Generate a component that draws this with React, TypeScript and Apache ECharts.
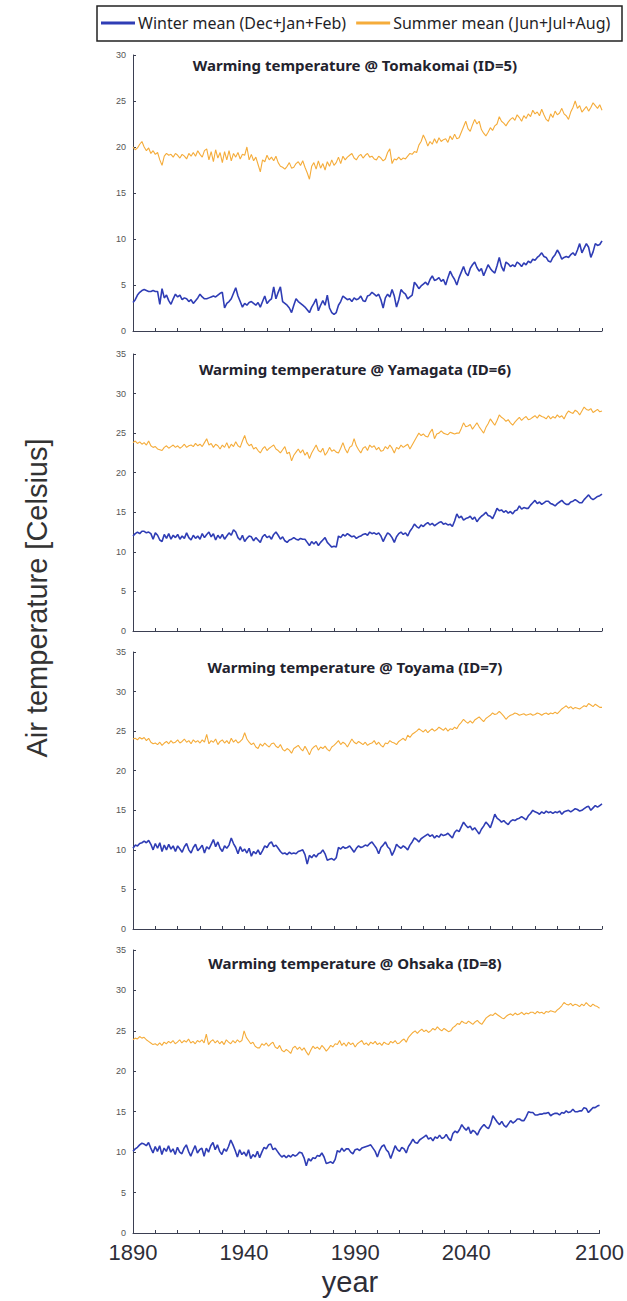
import React, { useEffect, useRef } from "react";
import * as echarts from "echarts";

const YEARS: number[] = Array.from({ length: 211 }, (_, i) => 1890 + i);
const X_LABELS = [1890, 1940, 1990, 2040, 2100];
const STATIONS = ["Tomakomai (ID=5)", "Yamagata (ID=6)", "Toyama (ID=7)", "Ohsaka (ID=8)"];
const Y_MAX = [30, 35, 35, 35];
const WINTER_NAME = "Winter mean (Dec+Jan+Feb)";
const SUMMER_NAME = "Summer mean (Jun+Jul+Aug)";

const TOMAKOMAI_SUMMER = [
  20.0, 19.7, 19.9, 20.3, 20.6, 20.0, 19.6, 19.9, 19.3, 19.6,
  19.2, 19.4, 18.6, 18.0, 19.0, 19.3, 19.1, 19.2, 18.9, 19.3,
  19.1, 18.8, 19.2, 19.0, 18.7, 19.3, 19.0, 19.4, 19.0, 19.6,
  19.2, 18.9, 19.6, 19.8, 18.6, 19.5, 18.4, 19.7, 18.8, 19.4,
  18.3, 19.5, 18.6, 19.6, 18.5, 19.3, 18.9, 19.4, 18.7, 19.2,
  19.1, 20.0, 18.6, 19.2, 18.5, 18.9, 18.1, 17.3, 18.6, 18.4,
  19.1, 18.6, 18.9, 18.5, 19.0, 18.3, 17.9, 17.8, 17.6, 17.9,
  18.3, 17.7, 17.8, 18.2, 18.4, 18.0, 18.5, 17.8, 17.2, 16.5,
  17.9, 18.3, 17.6, 18.5, 17.7, 18.2, 17.5, 18.4, 17.9, 18.6,
  18.0, 18.3, 18.9, 18.2, 19.0, 18.6, 18.9, 19.1, 19.3, 18.8,
  18.6, 19.0, 19.2, 18.8, 19.1, 19.3, 18.9, 19.0, 18.7, 18.6,
  19.0, 18.8, 18.5, 18.7, 19.4, 19.8, 18.2, 18.7, 18.6, 18.9,
  18.6, 18.8, 18.7, 19.0, 19.3, 19.2, 19.5, 19.4, 20.2, 20.6,
  21.3, 20.8, 20.1, 20.6, 20.3, 20.9, 20.4, 21.0, 20.6, 20.8,
  20.9, 20.5, 21.2, 20.8, 21.4, 20.9, 21.0, 21.6, 22.2, 22.8,
  22.0, 21.7, 22.4, 23.0, 22.5, 22.8, 21.9, 21.5, 21.2, 21.6,
  22.1, 21.8, 22.3, 22.5, 23.3, 22.8, 22.6, 22.3, 22.7, 23.0,
  23.2, 22.9, 23.5, 23.2, 22.8, 23.4, 23.1, 23.6, 23.3, 24.0,
  23.6, 23.8, 23.4, 24.1, 23.5, 23.0, 22.8, 23.6, 23.2, 23.9,
  23.5, 23.7, 24.2, 23.6, 23.4, 23.0, 23.8, 24.3, 25.0, 24.2,
  24.5, 23.8, 24.1, 24.4, 23.9, 24.3, 24.8, 24.5, 24.2, 24.6, 24.0,
];

const TOMAKOMAI_WINTER = [
  3.1, 3.4, 3.9, 4.2, 4.4, 4.5, 4.4, 4.3, 4.3, 4.4,
  4.3, 4.3, 2.9, 4.6, 3.6, 3.9, 3.3, 2.9, 3.5, 4.0,
  3.7, 3.9, 3.4, 3.6, 3.5, 3.2, 3.4, 3.0, 3.3, 3.6,
  4.0, 3.7, 3.5, 3.5, 3.6, 3.7, 3.8, 3.7, 3.9, 4.1,
  4.2, 2.5, 3.0, 3.2, 3.5, 4.1, 4.7, 3.8, 3.2, 2.6,
  3.0, 2.8, 3.1, 3.2, 3.0, 2.8, 3.1, 2.6, 3.2, 3.8,
  3.0, 3.3, 3.5, 4.8, 3.5, 4.2, 4.8, 3.2, 3.0, 2.8,
  2.5, 2.0, 2.8, 3.5, 3.2, 3.0, 2.8, 2.6, 2.3, 2.0,
  2.6, 3.0, 3.5, 2.2, 2.8, 3.3, 2.8, 3.9, 2.5, 2.0,
  1.8, 2.0, 2.8, 3.2, 3.8, 3.6, 3.4, 3.5, 3.2, 3.6,
  3.4, 3.5, 3.8, 3.3, 3.2, 3.8, 3.9, 4.2, 4.0, 3.8,
  4.0, 3.4, 2.5, 3.6, 4.0, 3.7, 4.5, 3.8, 2.6, 3.4,
  4.5, 4.2, 4.0, 3.5, 3.7, 3.9, 5.3, 5.0, 4.6, 4.9,
  5.1, 5.3, 5.0, 5.6, 6.0, 5.5, 5.6, 5.8, 5.4, 5.6,
  5.0, 5.8, 6.5, 6.0, 5.6, 5.0, 5.8, 6.4, 7.0, 6.3,
  6.0, 6.8, 7.2, 7.5, 6.9, 6.5, 6.8, 6.0, 6.6, 7.2,
  6.8, 6.5, 6.3, 7.1, 8.0, 7.0, 6.5, 7.5, 7.3, 7.0,
  7.2, 7.0, 7.5, 7.3, 7.0, 7.4, 7.2, 7.6, 7.4, 7.8,
  7.7, 8.0, 8.2, 8.5, 8.1, 8.0, 7.6, 7.5, 8.0, 8.3,
  8.8, 8.4, 7.8, 8.0, 8.1, 8.0, 8.3, 8.5, 8.2, 8.8,
  9.5, 8.5, 9.0, 9.5, 9.1, 8.0, 8.6, 9.5, 9.3, 9.4, 9.8,
];

const YAMAGATA_SUMMER = [
  23.8, 24.0, 23.7, 23.9, 23.6, 23.8, 23.5, 24.0, 23.4, 23.2,
  23.3, 23.0, 22.9, 22.8, 23.2, 23.4, 23.1, 23.3, 23.5, 23.2,
  23.4, 23.1, 23.3, 23.6, 23.2, 23.4, 23.5, 23.3, 23.7, 23.4,
  23.6, 23.3, 23.8, 24.3, 23.5, 23.7, 23.2, 23.6, 23.4, 23.0,
  23.5, 23.2, 23.8, 23.1, 23.6, 23.3, 23.9, 23.4, 23.2, 24.0,
  24.7, 23.8, 23.4, 23.6, 23.0, 23.2, 22.8, 22.5, 23.0, 23.3,
  22.8, 23.1, 23.3, 23.5, 23.0, 22.8, 22.5, 22.9, 23.3, 22.4,
  22.6, 21.5, 22.2, 22.6, 23.0, 22.5, 22.9, 22.2, 22.6, 21.8,
  22.5, 23.0, 23.5, 22.8, 22.6, 23.1, 22.2, 22.6, 23.2, 22.7,
  22.9, 22.6, 22.5, 23.1, 23.8, 23.0, 22.5, 23.2, 23.4, 24.3,
  23.4, 22.9, 22.5, 23.1, 23.3, 22.8, 23.5, 23.2, 23.4, 22.9,
  23.2, 22.7, 22.8, 23.3, 23.0, 23.5, 23.1, 22.5, 23.2, 23.0,
  23.5, 23.2, 23.4, 23.6, 23.0, 23.5, 24.0, 24.5, 25.0, 24.7,
  24.9, 24.6, 24.5, 25.1, 25.5, 24.3, 24.9, 25.0, 25.3, 25.0,
  24.9, 24.8, 25.1, 25.0, 24.9, 25.0, 25.0, 25.6, 26.3, 25.8,
  25.9, 26.1, 25.5, 25.9, 26.3, 25.8, 25.4, 25.0, 25.7, 26.2,
  26.8, 26.4, 26.0, 26.6, 27.3, 27.0, 26.8, 26.5, 26.7, 26.3,
  26.0, 26.4, 26.7, 27.0, 26.6, 26.9, 27.1, 26.7, 26.8, 27.0,
  27.2, 26.9, 27.3, 27.1, 27.0, 26.8, 27.2, 26.8, 27.1, 26.9,
  27.3, 27.0, 27.2, 26.8, 27.4, 27.8, 27.6, 27.5, 27.9, 27.7,
  27.3, 27.8, 28.3, 28.0, 27.9, 28.1, 27.6, 27.8, 28.0, 27.7, 27.8,
];

const YAMAGATA_WINTER = [
  12.0, 12.3, 12.5, 12.3, 12.6, 12.6, 12.4, 12.5, 12.3, 11.6,
  12.4, 12.1, 11.5, 11.3, 12.2, 11.7, 12.3, 11.6, 12.1, 11.8,
  12.2, 11.6, 12.0, 11.7, 12.4, 11.8, 11.5, 12.1, 11.7, 12.0,
  11.6, 12.3, 11.8, 12.2, 12.5, 11.9, 12.3, 11.5, 12.1, 11.7,
  12.2, 11.6, 12.0, 12.4, 12.1, 12.8, 12.5, 11.8, 11.5, 12.1,
  11.3, 11.7, 12.0, 11.9, 11.4, 11.8, 11.5, 11.2, 11.9, 12.2,
  11.8, 12.0, 11.6, 12.2, 12.5, 12.1, 11.6, 11.9, 11.4, 11.2,
  11.5, 11.6, 11.8, 11.6, 11.5, 11.7, 11.6, 11.6, 11.2, 10.8,
  11.3, 11.0, 11.3, 10.8, 11.2, 11.5, 11.8, 11.2, 10.9, 10.6,
  10.7, 10.6, 12.0, 11.8, 12.2, 12.0, 12.3, 12.1, 11.9, 12.0,
  11.7, 11.9, 12.0, 12.2, 12.3, 12.1, 12.5, 12.3, 12.4, 12.2,
  12.4, 12.0, 11.3, 11.9, 12.4, 12.2, 11.8, 11.2, 11.9, 12.3,
  12.5, 12.2, 12.4, 12.0, 12.6, 13.0, 13.5, 13.2, 13.0, 13.4,
  13.2, 13.5, 13.7, 13.4, 13.6, 13.3, 13.5, 13.7, 13.8, 13.5,
  13.6, 13.4, 13.5, 13.2, 13.9, 14.8, 14.3, 14.5, 14.0, 14.2,
  14.3, 14.5, 14.1, 14.4, 13.8, 14.2, 14.5, 14.7, 15.0, 14.6,
  14.5, 14.2, 14.8, 15.5, 15.2, 15.3, 15.0, 15.2, 14.9, 15.1,
  14.8, 15.2, 15.3, 15.8, 15.4, 15.6, 15.5, 15.5, 15.9, 16.2,
  16.5, 16.1, 16.3, 16.0, 16.2, 16.4, 16.4, 16.1, 16.0, 15.8,
  16.1, 16.3, 16.5, 16.2, 16.0, 16.0, 16.3, 16.4, 16.6, 16.4,
  16.2, 16.2, 16.6, 16.9, 17.2, 16.8, 16.6, 16.8, 17.0, 17.1, 17.3,
];

const TOYAMA_SUMMER = [
  24.0, 24.1, 23.9, 24.2, 24.0, 24.2, 23.8, 24.1, 23.6, 23.4,
  23.5, 23.3, 23.6, 23.2, 23.5, 23.7, 23.4, 23.8, 23.5, 23.6,
  23.9, 23.5, 23.7, 24.0, 23.6, 23.8, 23.4, 23.9, 23.6, 23.8,
  23.5, 23.9, 23.6, 24.6, 23.4, 23.8, 23.6, 24.0, 23.3, 23.7,
  23.9, 23.5, 23.8, 23.4, 24.1, 23.6, 23.9, 23.5, 23.7, 24.0,
  24.8, 24.0, 23.6, 23.3, 23.5, 23.0, 22.8, 23.4, 23.1, 23.5,
  23.2, 23.0, 23.4, 23.5, 23.1, 22.9, 23.3, 22.7, 22.5, 22.8,
  22.6, 22.2, 22.8, 23.0, 23.2, 22.8, 22.5, 23.1, 22.6, 22.0,
  22.7, 23.0, 23.2, 22.6, 23.0, 22.8, 23.1, 22.7, 22.5, 23.0,
  23.2, 23.5, 23.8, 23.3, 23.6, 23.4, 23.0, 23.5, 24.0, 23.6,
  23.4, 23.7, 23.5, 23.3, 23.6, 23.2, 23.4, 23.5, 23.8, 23.3,
  23.6, 23.2, 23.0, 23.5, 23.4, 23.8, 23.6, 23.5, 23.3, 23.7,
  23.9, 24.1, 23.8, 24.5, 24.2, 24.6, 24.8, 25.0, 25.3, 25.1,
  24.9, 25.2, 24.8, 25.1, 25.3, 25.0, 25.2, 25.5, 25.3, 25.1,
  25.4, 25.0, 25.3, 25.2, 25.5, 25.3, 25.8, 26.1, 26.5, 26.2,
  26.0, 26.3, 26.0, 26.4, 26.6, 26.8, 26.5, 26.2, 26.6, 26.8,
  27.0, 27.3, 27.1, 27.2, 27.5, 27.2, 26.9, 26.5, 26.8, 27.0,
  27.1, 27.3, 27.2, 27.0, 27.1, 27.2, 27.0, 27.1, 27.2, 27.0,
  27.1, 27.3, 27.2, 27.0, 27.2, 27.3, 27.1, 27.3, 27.2, 27.4,
  27.2, 27.5, 27.8, 28.0, 28.2, 27.9, 28.1, 27.8, 28.0, 27.9,
  27.8, 28.0, 28.2, 28.1, 28.5, 28.3, 28.1, 28.4, 28.2, 28.0, 28.0,
];

const TOYAMA_WINTER = [
  10.2, 10.6, 10.5, 10.8, 10.9, 11.1, 10.9, 11.2, 10.7, 10.0,
  10.8, 10.2, 10.9, 9.8, 10.6, 10.0, 10.7, 10.1, 10.5, 9.8,
  10.5, 10.1, 9.7, 10.4, 10.8, 10.0, 9.6, 10.3, 10.7, 9.9,
  10.2, 10.6, 9.6, 10.4, 10.1, 10.7, 11.3, 10.4, 11.0, 10.2,
  9.8, 10.5, 10.2, 10.6, 11.5, 10.8, 10.3, 9.5, 10.4, 9.8,
  10.1, 9.6, 10.2, 9.2, 9.8, 9.5, 10.0, 9.4, 9.9, 10.5,
  10.3, 10.8, 11.0, 10.4, 10.6, 10.2, 9.8, 9.5, 9.6, 9.4,
  9.7, 9.5, 9.6, 9.5, 9.8, 9.9, 10.0, 9.4, 8.2, 9.3,
  9.0, 9.4, 9.1, 9.5, 9.6, 10.0, 9.5, 8.7, 8.8, 8.9,
  8.7, 9.0, 10.3, 10.1, 10.4, 10.2, 10.3, 10.5, 10.1, 9.7,
  10.2, 10.5, 10.3, 10.4, 10.6, 10.5, 10.8, 11.0, 10.6, 10.2,
  9.5, 10.3, 10.6, 11.0, 10.4, 10.1, 9.3, 9.9, 10.7, 10.4,
  10.2, 10.5, 10.3, 10.0, 10.6, 11.0, 11.5, 11.3, 11.0, 11.4,
  11.6, 11.8, 12.0, 11.7, 11.9, 11.5, 11.8, 11.6, 12.0, 11.8,
  11.9, 12.1, 11.8, 11.5, 12.2, 12.5, 12.3, 12.9, 13.5, 13.1,
  12.8, 13.0, 12.5, 12.8, 12.4, 12.0, 12.6, 13.0, 13.5, 13.2,
  12.8, 13.6, 14.5, 14.0, 13.8, 13.5, 13.7, 13.4, 13.2, 13.6,
  13.8, 13.7, 13.9, 14.0, 14.2, 14.0, 13.8, 14.3, 14.6, 15.0,
  14.8, 14.7, 14.5, 14.8, 14.6, 14.9, 14.7, 14.8, 14.6, 14.8,
  14.7, 14.9, 14.5, 14.8, 14.9, 15.0, 14.8, 15.0, 15.2, 15.1,
  14.9, 15.0, 15.2, 15.4, 15.5, 15.0, 15.3, 15.6, 15.4, 15.6, 15.8,
];

const OHSAKA_SUMMER = [
  23.9, 24.1, 24.0, 24.3, 24.1, 24.2, 23.9, 23.7, 23.5, 23.3,
  23.4, 23.2, 23.5, 23.2, 23.6, 23.4, 23.7, 23.5, 23.8, 23.4,
  23.6, 23.9, 23.5, 23.8, 23.6, 24.0, 23.5, 23.7, 23.4, 23.8,
  23.6, 23.9, 23.5, 24.6, 23.3, 23.7, 23.9, 23.5, 23.8, 23.4,
  23.7, 23.3, 23.9, 23.6, 23.4, 23.8, 23.5, 23.9, 23.6, 23.8,
  25.0, 24.2, 23.8, 23.4, 23.6, 23.1, 22.9, 22.9, 23.4, 23.2,
  23.5, 23.1, 23.4, 23.6, 23.0, 22.8, 23.2, 22.6, 22.4, 22.7,
  22.5, 22.2, 22.9, 23.1, 22.7, 23.0, 22.6, 22.9, 22.4, 22.0,
  22.6, 23.1, 22.8, 23.0, 22.7, 23.2, 22.9, 22.5, 22.8, 23.2,
  23.0, 23.4, 23.3, 23.8, 23.2, 23.5, 23.1, 23.6, 23.3, 23.5,
  23.0, 23.4, 23.6, 23.8, 23.3, 23.5, 23.2, 23.6, 23.4, 23.7,
  23.3, 23.5, 23.2, 23.6, 23.4, 23.3, 23.7, 23.5, 23.8, 23.4,
  23.5, 23.8, 24.0, 23.6, 24.2, 24.5, 24.8, 25.0, 24.7, 25.0,
  25.2, 24.9, 25.1, 24.8, 25.0, 25.3, 25.1, 25.5, 25.2, 25.0,
  25.3, 25.1, 24.9, 25.0, 25.4, 25.6, 25.9, 25.8, 26.2, 26.0,
  25.9, 26.2, 26.0, 25.8, 26.1, 26.3, 26.0, 25.8, 26.2, 26.6,
  26.8, 27.0, 26.9, 27.2, 27.0, 26.8, 26.6, 26.5, 26.8, 27.0,
  27.1, 26.9, 27.2, 27.0, 27.1, 27.3, 27.0, 27.2, 27.1, 27.3,
  27.3, 27.1, 27.4, 27.2, 27.3, 27.1, 27.4, 27.3, 27.5, 27.4,
  27.3, 27.6, 27.8, 28.1, 28.5, 28.3, 28.2, 28.4, 28.1, 28.3,
  28.2, 28.0, 28.3, 28.1, 28.5, 28.2, 28.0, 28.3, 28.1, 28.0, 27.8,
];

const OHSAKA_WINTER = [
  10.1, 10.4, 10.6, 10.9, 11.1, 11.0, 10.8, 11.2, 10.5, 9.9,
  10.7, 10.1, 10.8, 9.7, 10.5, 10.1, 10.8, 10.0, 10.4, 9.7,
  10.6, 10.0, 9.8, 10.5, 10.9, 10.1, 9.5, 10.2, 10.8, 9.9,
  10.3, 10.5, 9.5, 10.5, 10.0, 10.8, 11.2, 10.3, 10.9, 10.1,
  9.7, 10.4, 10.1, 10.7, 11.5, 10.9, 10.2, 9.4, 10.3, 9.7,
  10.0, 9.5, 10.3, 9.2, 9.7, 9.4, 10.1, 9.3, 10.0, 10.6,
  10.4, 10.9, 11.0, 10.3, 10.5, 10.1, 9.7, 9.4, 9.6, 9.3,
  9.6, 9.4, 9.7, 9.5, 9.7, 10.0, 9.9, 9.3, 8.3, 9.2,
  8.9, 9.3, 9.2, 9.6, 9.5, 9.9, 9.4, 8.6, 8.7, 8.8,
  8.6, 9.1, 10.2, 10.0, 10.5, 10.1, 10.4, 10.4, 10.0, 9.8,
  10.3, 10.4, 10.2, 10.5, 10.6, 10.7, 10.8, 10.9, 10.5, 10.1,
  9.4, 10.2, 10.7, 10.9, 10.3, 10.0, 9.2, 10.0, 10.8, 10.3,
  10.1, 10.6, 10.4, 9.9, 10.7, 11.1, 11.6, 11.2, 11.1, 11.5,
  11.7, 11.9, 12.1, 11.6, 11.8, 11.4, 11.9, 11.7, 12.1, 11.7,
  11.8, 12.2, 11.7, 11.4, 12.3, 12.6, 12.4, 12.8, 13.4, 13.0,
  12.7, 13.1, 12.3, 12.7, 12.5, 12.1, 12.7, 13.1, 13.4, 13.1,
  12.9, 13.5, 14.5, 14.1, 13.7, 13.4, 13.8, 13.3, 13.1, 13.5,
  13.9, 13.6, 13.8, 14.1, 14.1, 13.9, 13.9, 14.4, 15.0, 14.9,
  14.9, 14.6, 14.6, 14.7, 14.7, 14.8, 14.8, 14.9, 14.5, 14.7,
  14.8, 14.8, 14.6, 14.9, 14.8, 15.1, 14.9, 15.0, 15.3, 15.0,
  15.0, 15.1, 15.1, 15.5, 15.4, 14.9, 15.2, 15.5, 15.5, 15.7, 15.8,
];

const WINTER = [TOMAKOMAI_WINTER, YAMAGATA_WINTER, TOYAMA_WINTER, OHSAKA_WINTER];
const SUMMER = [TOMAKOMAI_SUMMER, YAMAGATA_SUMMER, TOYAMA_SUMMER, OHSAKA_SUMMER];

const GRID_TOP = [55, 354, 652, 950];
const GRID_BOTTOM = [331, 631, 929, 1233];
const TITLE_TOP = [52, 356, 654, 950];
const GRID_LEFT = 133;
const GRID_RIGHT = 602;

const AXIS_COLOR = "#3b3f52";
const WINTER_COLOR = "#2f3db5";
const SUMMER_COLOR = "#f5ac3a";

export default function App() {
  const ref = useRef<HTMLDivElement>(null);

  useEffect(() => {
    if (!ref.current) return;
    const chart = echarts.init(ref.current, null, { renderer: "svg" });

    const grids = GRID_TOP.map((top, i) => ({
      left: GRID_LEFT,
      width: GRID_RIGHT - GRID_LEFT,
      top,
      height: GRID_BOTTOM[i] - top,
    }));

    const xAxes = GRID_TOP.map((_, i) => ({
      type: "value",
      gridIndex: i,
      min: 1890,
      max: 2100,
      interval: 10,
      splitLine: { show: false },
      axisLine: { show: true, lineStyle: { color: AXIS_COLOR, width: 1 } },
      axisTick: { show: true, inside: true, length: 3, lineStyle: { color: AXIS_COLOR } },
      axisLabel: {
        show: i === 3,
        showMinLabel: true,
        showMaxLabel: true,
        margin: 8,
        fontSize: 22,
        fontFamily: "Liberation Sans, Arial, sans-serif",
        color: "#2e2e38",
        formatter: (v: number) => (X_LABELS.includes(v) ? String(v) : ""),
      },
    }));

    const yAxes = GRID_TOP.map((_, i) => ({
      type: "value",
      gridIndex: i,
      min: 0,
      max: Y_MAX[i],
      interval: 5,
      splitLine: { show: false },
      axisLine: { show: true, lineStyle: { color: AXIS_COLOR, width: 1 } },
      axisTick: { show: true, inside: true, length: 3, lineStyle: { color: AXIS_COLOR } },
      axisLabel: {
        fontSize: 9,
        margin: 7,
        fontFamily: "Liberation Sans, Arial, sans-serif",
        color: "#555",
      },
    }));

    const series: any[] = [];
    GRID_TOP.forEach((_, i) => {
      series.push({
        name: SUMMER_NAME,
        type: "line",
        xAxisIndex: i,
        yAxisIndex: i,
        showSymbol: false,
        data: YEARS.map((y, k) => [y, SUMMER[i][k]]),
        lineStyle: { color: SUMMER_COLOR, width: 1.1 },
        itemStyle: { color: SUMMER_COLOR },
      });
      series.push({
        name: WINTER_NAME,
        type: "line",
        xAxisIndex: i,
        yAxisIndex: i,
        showSymbol: false,
        data: YEARS.map((y, k) => [y, WINTER[i][k]]),
        lineStyle: { color: WINTER_COLOR, width: 1.6 },
        itemStyle: { color: WINTER_COLOR },
      });
    });

    const titles = STATIONS.map((s, i) => ({
      text: "Warming temperature @ " + s,
      left: 350,
      top: TITLE_TOP[i],
      textAlign: "center",
      textStyle: {
        fontSize: 15,
        fontWeight: "bold",
        fontFamily: "Noto Sans, sans-serif",
        color: "#23232e",
      },
    }));

    chart.setOption({
      animation: false,
      backgroundColor: "#ffffff",
      title: titles,
      legend: {
        data: [
          { name: WINTER_NAME, icon: "rect" },
          { name: SUMMER_NAME, icon: "rect" },
        ],
        left: 101,
        top: 15,
        padding: 0,
        itemWidth: 34,
        itemHeight: 3,
        itemGap: 10,
        selectedMode: false,
        textStyle: {
          fontSize: 16,
          fontFamily: "Noto Sans, sans-serif",
          color: "#1f1f28",
          padding: [0, 0, 0, -2],
        },
      },
      grid: grids,
      xAxis: xAxes,
      yAxis: yAxes,
      series,
      graphic: [
        {
          type: "rect",
          shape: { x: 97, y: 6, width: 525, height: 35 },
          style: { fill: "none", stroke: "#222", lineWidth: 1.5 },
        },
        {
          type: "text",
          x: 37,
          y: 598,
          rotation: Math.PI / 2,
          style: {
            text: "Air temperature [Celsius]",
            fontSize: 29,
            fontFamily: "Liberation Sans, Arial, sans-serif",
            fill: "#333",
            align: "center",
            verticalAlign: "middle",
          },
        },
        {
          type: "text",
          x: 350,
          y: 1282,
          style: {
            text: "year",
            fontSize: 29,
            fontFamily: "Liberation Sans, Arial, sans-serif",
            fill: "#2e2e38",
            align: "center",
            verticalAlign: "middle",
          },
        },
      ],
    });

    return () => chart.dispose();
  }, []);

  return (
    <div
      ref={ref}
      style={{ position: "absolute", left: 0, top: 0, width: 627, height: 1301, background: "#fff" }}
    />
  );
}
